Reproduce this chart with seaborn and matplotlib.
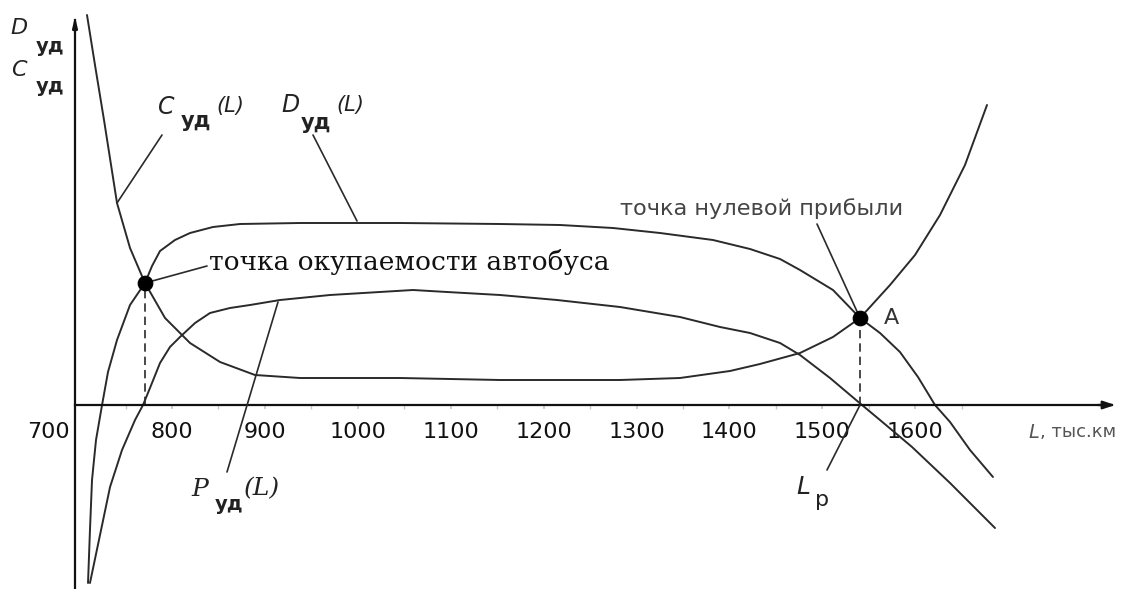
import numpy as np
import pandas as pd
import matplotlib.pyplot as plt
import seaborn as sns

# --- values: L in тыс.км, curve values in conventional units ---
c_L = [708.5, 717.1, 726.8, 740.8, 754.8, 770.9, 792.5, 819.4, 851.7, 889.3, 937.8,
       1045.4, 1153.1, 1282.2, 1346.8, 1400.6, 1432.9, 1476.0, 1511.5, 1540.6,
       1572.9, 1599.8, 1626.7, 1653.6, 1677.3]
c_val = [390, 340, 285, 202, 157, 122, 87, 62, 43, 30, 27,
         27, 25, 25, 27, 34, 41, 52, 68, 87,
         120, 150, 190, 240, 300]

d_L = [709.6, 711.7, 713.9, 718.2, 724.7, 731.1, 740.8, 754.8, 770.9, 778.5, 787.1,
       803.2, 819.4, 844.1, 873.2, 937.8, 1045.4, 1153.1, 1217.7, 1274.7, 1325.3,
       1382.3, 1422.2, 1454.5, 1476.0, 1511.5, 1540.6, 1562.1, 1583.6, 1603.0,
       1621.3, 1637.5, 1659.0, 1683.7]
d_val = [-178, -125, -75, -35, 0, 33, 65, 100, 122, 139, 154,
         165, 172, 178, 181, 182, 182, 181, 180, 177, 172,
         165, 156, 146, 135, 115, 87, 72, 53, 28,
         0, -17, -45, -72]

p_L = [711.7, 722.5, 733.3, 746.2, 760.2, 768.8, 776.3, 787.1, 797.8, 808.6, 824.8,
       840.9, 862.4, 884.0, 916.3, 970.1, 1059.4, 1096.0, 1153.1, 1214.4, 1282.2,
       1346.8, 1389.9, 1422.2, 1454.5, 1476.0, 1508.3, 1542.7, 1562.1, 1596.6,
       1637.5, 1685.9]
p_val = [-178, -130, -82, -45, -15, 0, 17, 42, 58, 68, 82,
         92, 97, 100, 105, 110, 115, 113, 110, 105, 98,
         88, 78, 72, 62, 50, 27, 0, -15, -42,
         -78, -123]

# break-even point of the bus and zero-profit point A
pts_L = [770.9, 1540.6]
pts_val = [122, 87]

tick_values = [800, 900, 1000, 1100, 1200, 1300, 1400, 1500, 1600]
tick_labels = [str(v) for v in tick_values]

sns.set_theme(style="white")
plt.rcParams['font.family'] = ['DejaVu Sans']

W, H = 1134, 589
fig = plt.figure(figsize=(W / 100, H / 100), dpi=100)
ax = fig.add_axes([0, 0, 1, 1])


def at(px, py):
    # picture pixel -> data coords (used only for placing labels)
    return 800 + (px - 172) / 0.929, 405 - py


x0, y0 = at(0, H)
x1, y1 = at(W, 0)
ax.set_xlim(x0, x1)
ax.set_ylim(y0, y1)

line_col = '#2a2a2a'
curves = pd.concat([
    pd.DataFrame({'L': c_L, 'v': c_val, 'curve': 'C'}),
    pd.DataFrame({'L': d_L, 'v': d_val, 'curve': 'D'}),
    pd.DataFrame({'L': p_L, 'v': p_val, 'curve': 'P'}),
])
for name, grp in curves.groupby('curve'):
    sns.lineplot(data=grp, x='L', y='v', sort=False, estimator=None,
                 color=line_col, lw=1.4, ax=ax)

# dashed drops to the axis
ax.vlines(pts_L, 0, pts_val, colors=line_col, linestyles=(0, (5, 3)), lw=1.2)
sns.scatterplot(x=pts_L, y=pts_val, s=110, color='black', edgecolor='black', zorder=5, ax=ax)

# axes as spines through the origin
y_axis_L = at(75, 0)[0]
for s in ['top', 'right']:
    ax.spines[s].set_visible(False)
ax.spines['bottom'].set_position(('data', 0))
ax.spines['left'].set_position(('data', y_axis_L))
ax.spines['bottom'].set_bounds(y_axis_L, at(1112, 0)[0])
ax.spines['left'].set_bounds(y0, at(0, 20)[1])
for s in ['bottom', 'left']:
    ax.spines[s].set_color('#111')
    ax.spines[s].set_linewidth(1.6)
ax.annotate('', xy=at(1118, 405), xytext=at(1095, 405),
            arrowprops=dict(arrowstyle='-|>,head_length=0.6,head_width=0.2', color='#111', lw=1.6))
ax.annotate('', xy=at(75, 14), xytext=at(75, 35),
            arrowprops=dict(arrowstyle='-|>,head_length=0.5,head_width=0.12', color='#111', lw=1.6))

ax.set_xticks(tick_values)
ax.set_xticklabels(tick_labels)
ax.set_xticks(np.arange(750, 1700, 50), minor=True)
ax.tick_params(axis='x', which='both', length=3, color='#c8c8c8', labelsize=16,
               pad=9, labelcolor='#111', bottom=True)
ax.set_yticks([])
ax.set_xlabel('')
ax.set_ylabel('')
ax.text(*at(70, 432), '700', fontsize=16, ha='right', va='center', color='#111')

# axis captions
ax.text(*at(1028, 432), 'L', fontsize=14, style='italic', ha='left', va='center', color='#555')
ax.text(*at(1040, 432), ', тыс.км', fontsize=13, ha='left', va='center', color='#555')
ax.text(*at(10, 28), 'D', fontsize=16, style='italic', ha='left', va='center', color='#222')
ax.text(*at(36, 46), 'уд', fontsize=14, weight='bold', ha='left', va='center', color='#222')
ax.text(*at(11, 70), 'C', fontsize=16, style='italic', ha='left', va='center', color='#222')
ax.text(*at(36, 86), 'уд', fontsize=14, weight='bold', ha='left', va='center', color='#222')

# curve names
ax.text(*at(158, 107), 'C', fontsize=17, style='italic', ha='left', va='center', color='#222')
ax.text(*at(181, 121), 'уд', fontsize=15, weight='bold', ha='left', va='center', color='#222')
ax.text(*at(216, 106), '(L)', fontsize=15, style='italic', ha='left', va='center', color='#222')
ax.text(*at(281, 105), 'D', fontsize=17, style='italic', ha='left', va='center', color='#222')
ax.text(*at(301, 123), 'уд', fontsize=15, weight='bold', ha='left', va='center', color='#222')
ax.text(*at(336, 105), '(L)', fontsize=15, style='italic', ha='left', va='center', color='#222')
ax.text(*at(191, 489), 'P', fontsize=18, style='italic', family='DejaVu Serif',
        ha='left', va='center', color='#222')
ax.text(*at(215, 504), 'уд', fontsize=14, weight='bold', ha='left', va='center', color='#222')
ax.text(*at(244, 489), '(L)', fontsize=18, style='italic', family='DejaVu Serif',
        ha='left', va='center', color='#222')
ax.text(*at(796, 487), 'L', fontsize=18, style='italic', ha='left', va='center', color='#222')
ax.text(*at(815, 500), 'р', fontsize=16, ha='left', va='center', color='#222')
ax.text(*at(884, 318), 'A', fontsize=16, ha='left', va='center', color='#333')

ax.text(*at(209, 262), 'точка окупаемости автобуса', fontsize=19, family='DejaVu Serif',
        ha='left', va='center', color='#111')
ax.text(*at(620, 209), 'точка нулевой прибыли', fontsize=16.2, family='DejaVu Sans',
        ha='left', va='center', color='#444')

# leader lines
leader = dict(arrowstyle='-', color=line_col, lw=1.2, shrinkA=0, shrinkB=0)
ax.annotate('', xy=at(117, 203), xytext=at(162, 135), arrowprops=leader)
ax.annotate('', xy=at(357, 221), xytext=at(313, 135), arrowprops=leader)
ax.annotate('', xy=(pts_L[0], pts_val[0]), xytext=at(207, 266), arrowprops=leader)
ax.annotate('', xy=(pts_L[1], pts_val[1]), xytext=at(817, 224), arrowprops=leader)
ax.annotate('', xy=at(278, 302), xytext=at(227, 472), arrowprops=leader)
ax.annotate('', xy=(pts_L[1], 0), xytext=at(827, 470), arrowprops=leader)

fig.savefig('out.png', dpi=100)
